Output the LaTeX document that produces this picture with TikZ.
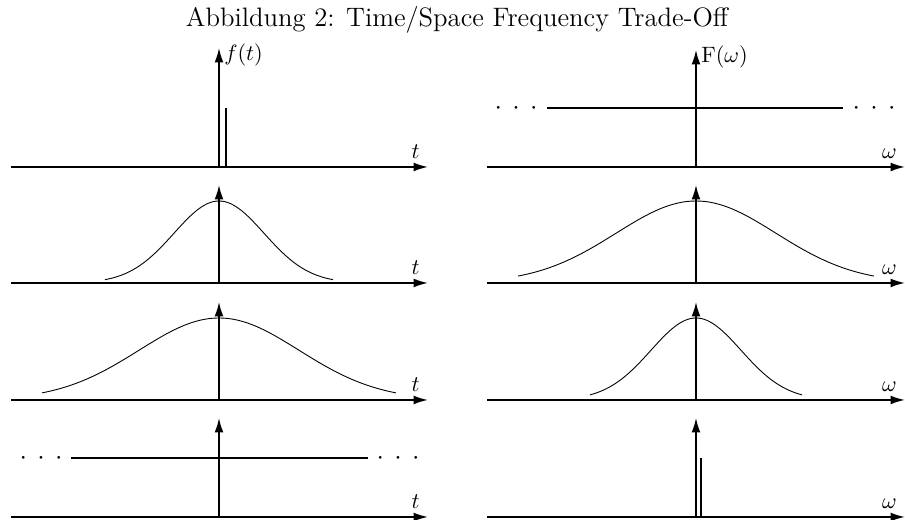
\documentclass[tikz,border=0pt]{standalone}
\usepackage{amsmath,amssymb}
\usetikzlibrary{arrows.meta,positioning,calc}
\tikzset{
  achse/.style={line width=0.75pt,-{Latex[length=6.5pt,width=4pt]}},
  kurve/.style={line width=0.4pt},
  linie/.style={line width=0.55pt},
  punkte/.style={inner sep=0pt,anchor=base,font=\large,yshift=-3pt},
  declare function={glocke(\x,\s)=82*exp(-0.5*(\x/\s)^2);}
}
\newcommand{\pkt}{${\cdot}\mkern7mu{\cdot}\mkern7mu{\cdot}$}

\begin{document}
\begin{tikzpicture}[x=0.45pt,y=0.45pt]
  \useasboundingbox (0,0) rectangle (905,520);
  \node[font=\large,anchor=base] (titel) at (457,493) {Abbildung 2: Time/Space Frequency Trade-Off};
  % Nullpunkte der acht Achsenkreuze
  \coordinate (L1) at (219,353);
  \coordinate (L2) at (219,237);
  \coordinate (L3) at (219,120);
  \coordinate (L4) at (219,3);
  \coordinate (R1) at (696,353);
  \coordinate (R2) at (696,237);
  \coordinate (R3) at (696,120);
  \coordinate (R4) at (696,3);
  % linke Spalte: f(t)
  \draw[achse] ($(L1)+(-208,0)$) -- ($(L1)+(209,0)$) node[above left] (t1) {$t$};
  \draw[achse] ($(L2)+(-208,0)$) -- ($(L2)+(209,0)$) node[above left] (t2) {$t$};
  \draw[achse] ($(L3)+(-208,0)$) -- ($(L3)+(209,0)$) node[above left] (t3) {$t$};
  \draw[achse] ($(L4)+(-208,0)$) -- ($(L4)+(209,0)$) node[above left] (t4) {$t$};
  \draw[achse] (L1) -- ++(0,119) node[right,inner sep=2pt,yshift=-3pt] (ft) {$f(t)$};
  \draw[achse] (L2) -- ++(0,98);
  \draw[achse] (L3) -- ++(0,98);
  \draw[achse] (L4) -- ++(0,99);
  \draw[linie] ($(L1)+(7,0)$) -- ++(0,59);
  \draw[kurve,shift={(L2)}] plot[domain=-114:114,samples=41,smooth] (\x,{glocke(\x,45)});
  \draw[kurve,shift={(L3)}] plot[domain=-177:177,samples=41,smooth] (\x,{glocke(\x,80)});
  \draw[linie] ($(L4)+(-148,59)$) -- ($(L4)+(149,59)$);
  \node[punkte] (pl1) at ($(L4)+(-178,59)$) {\pkt};
  \node[punkte] (pl2) at ($(L4)+(179,59)$) {\pkt};
  % rechte Spalte: F(omega)
  \draw[achse] ($(R1)+(-209,0)$) -- ($(R1)+(209,0)$) node[above left] (w1) {$\omega$};
  \draw[achse] ($(R2)+(-209,0)$) -- ($(R2)+(209,0)$) node[above left] (w2) {$\omega$};
  \draw[achse] ($(R3)+(-209,0)$) -- ($(R3)+(209,0)$) node[above left] (w3) {$\omega$};
  \draw[achse] ($(R4)+(-209,0)$) -- ($(R4)+(209,0)$) node[above left] (w4) {$\omega$};
  \draw[achse] (R1) -- ++(0,117) node[right,inner sep=2pt,yshift=-3pt] (Fw) {$\mathrm{F}(\omega)$};
  \draw[achse] (R2) -- ++(0,98);
  \draw[achse] (R3) -- ++(0,98);
  \draw[achse] (R4) -- ++(0,99);
  \draw[linie] ($(R1)+(-149,59)$) -- ($(R1)+(147,59)$);
  \node[punkte] (pr1) at ($(R1)+(-180,59)$) {\pkt};
  \node[punkte] (pr2) at ($(R1)+(178,59)$) {\pkt};
  \draw[kurve,shift={(R2)}] plot[domain=-178:178,samples=41,smooth] (\x,{glocke(\x,80)});
  \draw[kurve,shift={(R3)}] plot[domain=-106:106,samples=41,smooth] (\x,{glocke(\x,45)});
  \draw[linie] ($(R4)+(5,0)$) -- ++(0,59);
\end{tikzpicture}
\end{document}
